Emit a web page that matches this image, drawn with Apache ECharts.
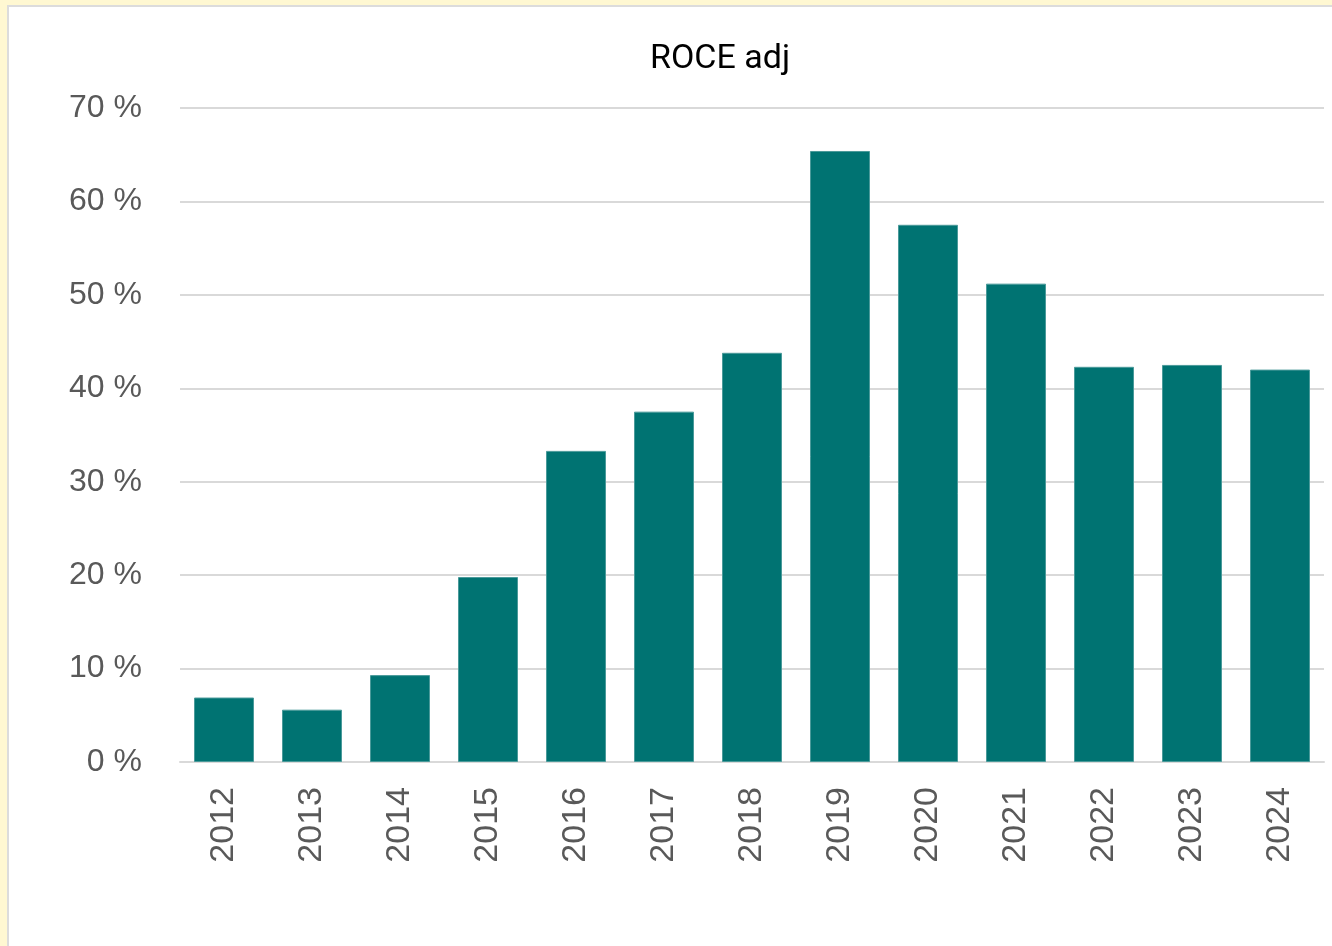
<!DOCTYPE html>
<html>
<head>
<meta charset="utf-8">
<title>ROCE adj</title>
<script src="https://cdn.jsdelivr.net/npm/echarts@6/dist/echarts.min.js"></script>
<style>
  html, body { margin: 0; padding: 0; width: 1332px; height: 946px; overflow: hidden; background: #fff8d2; }
  #panel { position: absolute; left: 7px; top: 5px; width: 1340px; height: 960px; background: #ffffff; border: 2px solid #dcdcdc; box-sizing: border-box; }
  #chart { position: absolute; left: 0; top: 0; width: 1332px; height: 946px; }
</style>
</head>
<body>
<div id="panel"></div>
<div id="chart"></div>
<script>
// Adjusted return on capital employed, per year (%)
const years = ['2012', '2013', '2014', '2015', '2016', '2017', '2018', '2019', '2020', '2021', '2022', '2023', '2024'];
const roceAdj = [6.9, 5.6, 9.3, 19.8, 33.3, 37.5, 43.8, 65.4, 57.5, 51.2, 42.3, 42.5, 42.0];
const yTicks = { min: 0, max: 70, step: 10 };
const chartTitle = 'ROCE adj';

const labelColor = '#595959';
const gridColor = '#d9d9d9';
const barColor = '#007372';

const chart = echarts.init(document.getElementById('chart'), null, { renderer: 'canvas' });
chart.setOption({
  backgroundColor: 'transparent',
  animation: false,
  graphic: [{
    type: 'text',
    x: 720,
    y: 59,
    style: {
      text: chartTitle,
      fontFamily: 'Roboto',
      fontSize: 34,
      fill: '#000000',
      textAlign: 'center',
      textVerticalAlign: 'middle'
    }
  }],
  grid: { left: 180, right: 8, top: 108, bottom: 184, containLabel: false },
  xAxis: {
    type: 'category',
    data: years,
    axisLine: { show: true, lineStyle: { color: gridColor, width: 2 } },
    axisTick: { show: false },
    axisLabel: {
      rotate: 90,
      margin: 25,
      color: labelColor,
      fontFamily: 'Liberation Sans',
      fontSize: 34
    }
  },
  yAxis: {
    type: 'value',
    min: yTicks.min,
    max: yTicks.max,
    interval: yTicks.step,
    axisLine: { show: false },
    axisTick: { show: false },
    splitLine: { lineStyle: { color: gridColor, width: 2 } },
    axisLabel: {
      margin: 38,
      color: labelColor,
      fontFamily: 'Liberation Sans',
      fontSize: 32,
      formatter: v => v + ' %'
    }
  },
  series: [{
    type: 'bar',
    data: roceAdj,
    barWidth: 60,
    itemStyle: { color: barColor, borderColor: '#4a9a9a', borderWidth: 1 }
  }]
});
</script>
</body>
</html>
